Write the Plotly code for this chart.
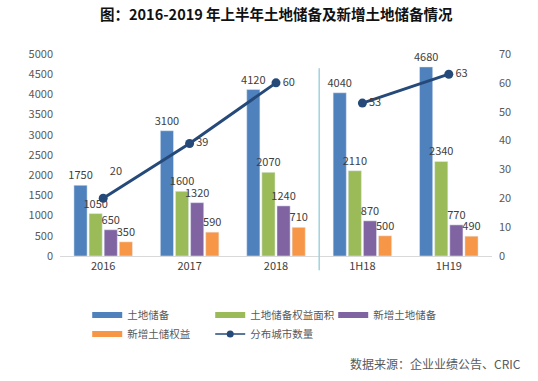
import plotly.graph_objects as go

categories = ["2016", "2017", "2018", "1H18", "1H19"]
land_reserve = [1750, 3100, 4120, 4040, 4680]
equity_area = [1050, 1600, 2070, 2110, 2340]
new_reserve = [650, 1320, 1240, 870, 770]
new_equity = [350, 590, 710, 500, 490]
city_count_a = [20, 39, 60]          # 2016-2018
city_count_b = [53, 63]              # 1H18-1H19

bar_series = [
    ("土地储备", land_reserve, "#4F81BD"),
    ("土地储备权益面积", equity_area, "#9BBB59"),
    ("新增土地储备", new_reserve, "#8064A2"),
    ("新增土储权益", new_equity, "#F79646"),
]
line_name = "分布城市数量"
line_color = "#254A7A"
txt_color = "#404040"
font_family = "Noto Sans CJK SC"
title_text = "<b>图：2016-2019 年上半年土地储备及新增土地储备情况</b>"
source_text = "数据来源：企业业绩公告、CRIC"

fig = go.Figure()
for name, vals, col in bar_series:
    fig.add_trace(go.Bar(
        x=categories, y=vals, name=name, marker_color=col,
        text=[str(v) for v in vals], textposition="outside", constraintext="none",
        textfont=dict(size=11, color=txt_color, family=font_family),
        cliponaxis=False, showlegend=False,
    ))

labels_a = [str(v) for v in city_count_a]
labels_a[0] = labels_a[0] + "<br> "
fig.add_trace(go.Scatter(
    x=categories[:3], y=city_count_a, yaxis="y2", mode="lines+markers+text",
    line=dict(color=line_color, width=3), marker=dict(size=9, color=line_color),
    text=labels_a, textposition=["top right", "middle right", "middle right"],
    textfont=dict(size=11, color=txt_color, family=font_family),
    showlegend=False, cliponaxis=False,
))
fig.add_trace(go.Scatter(
    x=categories[3:], y=city_count_b, yaxis="y2", mode="lines+markers+text",
    line=dict(color=line_color, width=3), marker=dict(size=9, color=line_color),
    text=[str(v) for v in city_count_b], textposition=["middle right", "middle right"],
    textfont=dict(size=11, color=txt_color, family=font_family),
    showlegend=False, cliponaxis=False,
))

# legend entries
for name, vals, col in bar_series:
    fig.add_trace(go.Scatter(x=[None], y=[None], mode="lines", name=name,
                             line=dict(color=col, width=6)))
fig.add_trace(go.Scatter(x=[None], y=[None], mode="lines+markers", name=line_name,
                         line=dict(color=line_color, width=1.5),
                         marker=dict(size=7, color=line_color)))

fig.add_shape(type="line", xref="x", yref="paper", x0=2.5, x1=2.5, y0=-0.07, y1=0.93,
              line=dict(color="#9FD3E0", width=1.5))

fig.update_layout(
    width=538, height=381,
    margin=dict(l=60, r=46, t=54, b=125),
    paper_bgcolor="white", plot_bgcolor="white",
    font=dict(family=font_family, size=11, color="#595959"),
    barmode="group", bargap=0.3, bargroupgap=0.13,
    xaxis=dict(type="category", categoryorder="array", categoryarray=categories,
               showline=True, linecolor="#D9D9D9", linewidth=1, ticks="",
               showgrid=False, tickfont=dict(size=11, color=txt_color)),
    yaxis=dict(range=[0, 5000], dtick=500, showgrid=False, zeroline=False,
               showline=False, tickfont=dict(size=11, color="#595959"), ticklabelstandoff=6),
    yaxis2=dict(range=[0, 70], dtick=10, overlaying="y", side="right", showgrid=False,
                zeroline=False, showline=False, tickfont=dict(size=11, color="#595959"),
                ticklabelstandoff=6),
    legend=dict(orientation="h", x=0.063, xanchor="left", y=-0.22, yanchor="top",
                entrywidth=78, font=dict(size=10.5, color="#595959"), tracegroupgap=0,
                itemwidth=30),
    annotations=[
        dict(text=title_text, xref="paper", yref="paper", x=0.5, y=1.2,
             xanchor="center", yanchor="middle", showarrow=False,
             font=dict(size=14.5, color="#111111", family=font_family)),
        dict(text=source_text, xref="paper", yref="paper",
             x=1.072, y=-0.53, xanchor="right", yanchor="middle", showarrow=False,
             font=dict(size=12, color="#595959")),
    ],
)

fig.write_html("out.html", config={"displayModeBar": False},
               post_script="document.body.style.margin='0';document.body.style.overflow='hidden';")
